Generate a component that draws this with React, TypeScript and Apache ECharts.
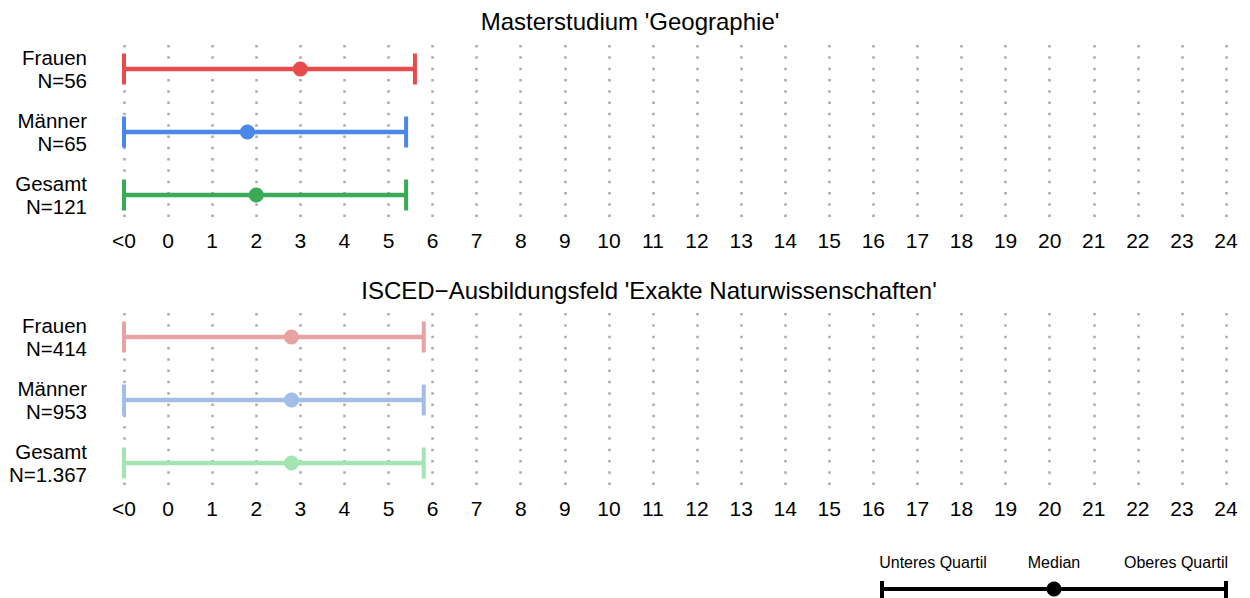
import React, { useEffect, useRef } from "react";
import * as echarts from "echarts";

const groups = ["Frauen", "Männer", "Gesamt"];
const panelTitles = [
  "Masterstudium 'Geographie'",
  "ISCED\u2212Ausbildungsfeld 'Exakte Naturwissenschaften'",
];
const geoN = ["56", "65", "121"];
const geoLower = [-1, -1, -1];
const geoMedian = [3.0, 1.8, 2.0];
const geoUpper = [5.6, 5.4, 5.4];
const iscedN = ["414", "953", "1.367"];
const iscedLower = [-1, -1, -1];
const iscedMedian = [2.8, 2.8, 2.8];
const iscedUpper = [5.8, 5.8, 5.8];
const xMin = -1;
const xMax = 24;
const lowLabel = "<0";
const legendLabels = ["Unteres Quartil", "Median", "Oberes Quartil"];

const topColors = ["#E84B4B", "#4A87E9", "#3AAA56"];
const bottomColors = ["#E8A2A2", "#A2BEE6", "#A2E5B2"];
const FONT = "'Liberation Sans', Arial, Helvetica, sans-serif";

const makeRender = (colors: string[]) => (params: any, api: any) => {
  const row = api.value(3);
  const lo = api.coord([api.value(0), row]);
  const med = api.coord([api.value(1), row]);
  const hi = api.coord([api.value(2), row]);
  const c = colors[params.dataIndex];
  const h = 15.5;
  return {
    type: "group",
    children: [
      { type: "line", shape: { x1: lo[0], y1: lo[1], x2: hi[0], y2: hi[1] }, style: { stroke: c, lineWidth: 4.5 } },
      { type: "line", shape: { x1: lo[0], y1: lo[1] - h, x2: lo[0], y2: lo[1] + h }, style: { stroke: c, lineWidth: 4 } },
      { type: "line", shape: { x1: hi[0], y1: hi[1] - h, x2: hi[0], y2: hi[1] + h }, style: { stroke: c, lineWidth: 4 } },
      { type: "circle", shape: { cx: med[0], cy: med[1], r: 7.5 }, style: { fill: c } },
    ],
  };
};

export default function App() {
  const ref = useRef<HTMLDivElement>(null);
  useEffect(() => {
    if (!ref.current) return;
    const chart = echarts.init(ref.current, null, { renderer: "svg" });
    const gridH = 173.25;
    const tops = [45.06, 313.06];
    const nLists = [geoN, iscedN];
    const grids = tops.map((t) => ({ left: 124, right: 24, top: t, height: gridH }));
    const xAxes = tops.map((_, i) => ({
      type: "value",
      gridIndex: i,
      min: xMin,
      max: xMax,
      interval: 1,
      axisLine: { show: false },
      axisTick: { show: false },
      splitLine: { show: true, lineStyle: { color: "#aaaaaa", width: 2.5, type: [2.5, 8.8] } },
      axisLabel: {
        margin: 12,
        fontSize: 21,
        fontFamily: FONT,
        color: "#000",
        formatter: (v: number) => (v === xMin ? lowLabel : String(v)),
      },
    }));
    const yAxes = tops.map((_, i) => ({
      type: "value",
      gridIndex: i,
      min: -0.38,
      max: 2.37,
      inverse: true,
      axisLine: { show: false },
      axisTick: { show: false },
      splitLine: { show: false },
      axisLabel: {
        customValues: [0, 1, 2],
        margin: 37,
        fontSize: 20.5,
        lineHeight: 23,
        fontFamily: FONT,
        color: "#000",
        align: "right",
        formatter: (v: number) => `${groups[Math.round(v)]}\nN=${nLists[i][Math.round(v)]}`,
      },
    }));
    const mk = (lo: number[], md: number[], hi: number[]) => lo.map((l, k) => [l, md[k], hi[k], k]);
    const series = [
      {
        type: "custom",
        xAxisIndex: 0,
        yAxisIndex: 0,
        renderItem: makeRender(topColors),
        encode: { x: [0, 1, 2], y: 3 },
        data: mk(geoLower, geoMedian, geoUpper),
        clip: false,
      },
      {
        type: "custom",
        xAxisIndex: 1,
        yAxisIndex: 1,
        renderItem: makeRender(bottomColors),
        encode: { x: [0, 1, 2], y: 3 },
        data: mk(iscedLower, iscedMedian, iscedUpper),
        clip: false,
      },
    ];
    const textStyle = (text: string, x: number, y: number, size: number) => ({
      type: "text",
      x,
      y,
      style: { text, fill: "#000", fontSize: size, fontFamily: FONT, textAlign: "center", textVerticalAlign: "middle" },
    });
    const graphic = [
      textStyle(panelTitles[0], 630, 21, 24),
      textStyle(panelTitles[1], 649, 290, 24),
      textStyle(legendLabels[0], 933, 562, 16),
      textStyle(legendLabels[1], 1054, 562, 16),
      textStyle(legendLabels[2], 1176, 562, 16),
      { type: "line", shape: { x1: 882, y1: 589, x2: 1226, y2: 589 }, style: { stroke: "#000", lineWidth: 4 } },
      { type: "line", shape: { x1: 882, y1: 581, x2: 882, y2: 600 }, style: { stroke: "#000", lineWidth: 4 } },
      { type: "line", shape: { x1: 1226, y1: 581, x2: 1226, y2: 600 }, style: { stroke: "#000", lineWidth: 4 } },
      { type: "circle", shape: { cx: 1054, cy: 589, r: 7.5 }, style: { fill: "#000" } },
    ];
    chart.setOption({
      animation: false,
      backgroundColor: "#ffffff",
      grid: grids,
      xAxis: xAxes,
      yAxis: yAxes,
      series,
      graphic,
    });
    return () => chart.dispose();
  }, []);
  return (
    <div
      ref={ref}
      style={{ position: "fixed", left: 0, top: 0, width: 1250, height: 598 }}
    />
  );
}
